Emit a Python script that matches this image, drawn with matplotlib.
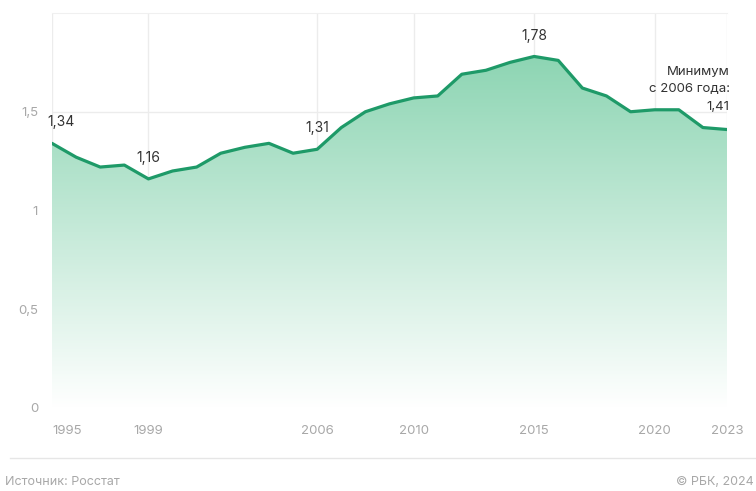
import numpy as np
import matplotlib.pyplot as plt
from matplotlib.patches import Polygon

plt.rcParams['font.family'] = ['Inter', 'DejaVu Sans']

years = list(range(1995, 2024))
fertility = [1.34, 1.27, 1.22, 1.23, 1.16, 1.20, 1.22, 1.29, 1.32, 1.34,
             1.29, 1.31, 1.42, 1.50, 1.54, 1.57, 1.58, 1.69, 1.71, 1.75,
             1.78, 1.76, 1.62, 1.58, 1.50, 1.51, 1.51, 1.42, 1.41]
xticks = [1995, 1999, 2006, 2010, 2015, 2020, 2023]
yticks = [0, 0.5, 1, 1.5]
ytick_labels = ['0', '0,5', '1', '1,5']
notes = [(1995, 1.34, '1,34', 'left'), (1999, 1.16, '1,16', 'center'),
         (2006, 1.31, '1,31', 'center'), (2015, 1.78, '1,78', 'center')]

line_color = '#1e9a68'
fig = plt.figure(figsize=(7.56, 4.91), dpi=100)
ax = fig.add_axes([52 / 756, 1 - 408 / 491, 675 / 756, 395 / 491])
ax.set_xlim(1995, 2023)
ax.set_ylim(0, 2)

# gradient fill under the line
grad = np.linspace(0, 1, 256).reshape(-1, 1)
top = np.array([0x8d, 0xd5, 0xb3]) / 255
img = np.ones((256, 1, 4))
img[:, 0, :3] = 1 - grad * (1 - top)
img[:, 0, 3] = 1
im = ax.imshow(img, extent=[1995, 2023, 0, 1.78], origin='lower', aspect='auto', zorder=1)
verts = [(1995, 0)] + list(zip(years, fertility)) + [(2023, 0)]
clip = Polygon(verts, closed=True, transform=ax.transData, facecolor='none', edgecolor='none')
ax.add_patch(clip)
im.set_clip_path(clip)

ax.plot(years, fertility, color=line_color, lw=2.3, zorder=3,
        solid_capstyle='round', solid_joinstyle='round')

for x in xticks:
    ax.axvline(x, color='#ececec', lw=1, zorder=0.5)
for y in yticks:
    ax.axhline(y, color='#ececec', lw=1, zorder=0.5)

ax.set_xticks(xticks)
ax.set_xticklabels([str(x) for x in xticks], color='#a8a8a8', fontsize=9.5)
ax.get_xticklabels()[0].set_ha('left')
ax.set_yticks(yticks)
ax.set_yticklabels(ytick_labels, color='#a8a8a8', fontsize=9.5)
ax.tick_params(axis='x', length=0, pad=12)
ax.tick_params(axis='y', length=0, pad=10)
for s in ax.spines.values():
    s.set_visible(False)
ax.spines['top'].set_visible(True)
ax.spines['top'].set_color('#f0f0f0')

for x, y, label, ha in notes:
    ax.annotate(label, (x, y), xytext=(-3 if ha == 'left' else 0, 10), textcoords='offset points',
                ha=ha, va='bottom', fontsize=10, color='#333333', zorder=4)
ax.annotate('Минимум\nс 2006 года:\n1,41', (2023, 1.41), xytext=(2, 12), textcoords='offset points',
            ha='right', va='bottom', fontsize=9.5, color='#333333', linespacing=1.6, zorder=4)

fig.add_artist(plt.Line2D([10 / 756, 1], [1 - 458 / 491] * 2, color='#e6e6e6', lw=1))
fig.text(5 / 756, 1 - 482 / 491, 'Источник: Росстат', fontsize=9, color='#a8a8a8', va='center')
fig.text(754 / 756, 1 - 482 / 491, '© РБК, 2024', fontsize=9, color='#a8a8a8', va='center', ha='right')

fig.savefig('out.png', dpi=100)
